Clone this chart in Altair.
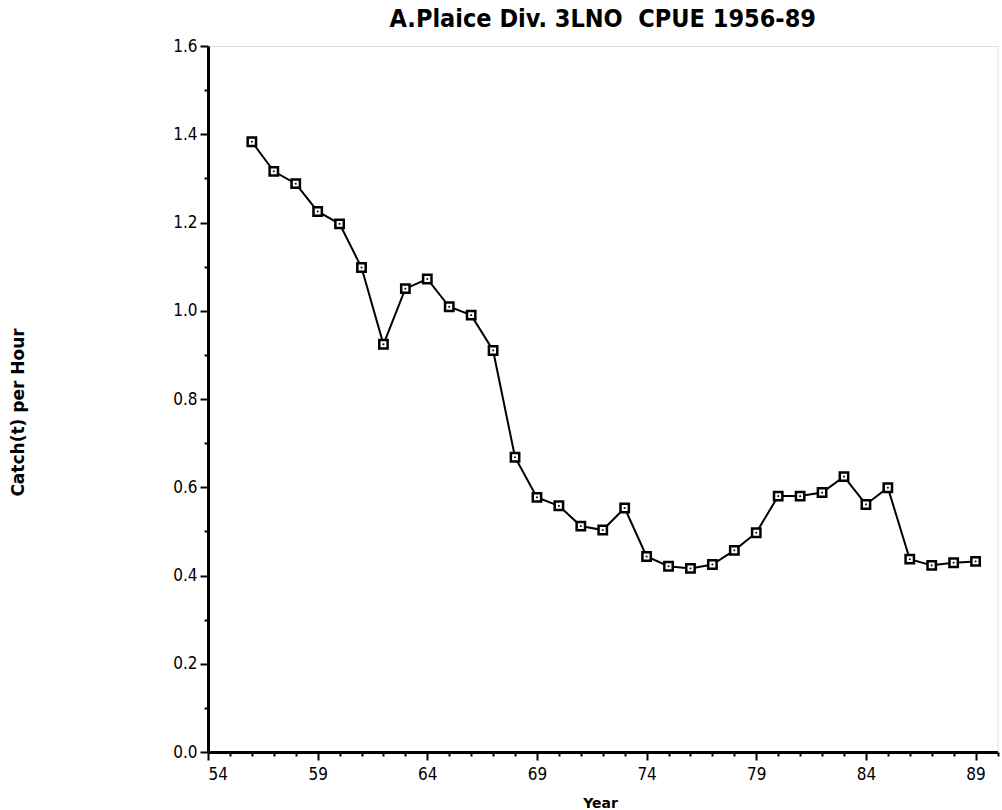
import altair as alt
import pandas as pd

years = list(range(1956, 1990))
cpue = [1.383, 1.316, 1.288, 1.225, 1.197, 1.098, 0.924, 1.050, 1.072, 1.009,
        0.990, 0.910, 0.668, 0.577, 0.558, 0.512, 0.503, 0.553, 0.443, 0.421,
        0.416, 0.425, 0.457, 0.497, 0.580, 0.580, 0.588, 0.624, 0.561, 0.599,
        0.437, 0.423, 0.429, 0.432]

x_tick_values = list(range(1954, 1991))
y_tick_values = [0.0, 0.1, 0.2, 0.3, 0.4, 0.5, 0.6, 0.7, 0.8, 0.9, 1.0,
                 1.1, 1.2, 1.3, 1.4, 1.5, 1.6]

df = pd.DataFrame({"Year": years, "CPUE": cpue})

NARROW = "Liberation Sans Narrow, DejaVu Sans Condensed, Arial Narrow, sans-serif"

x_enc = alt.X(
    "Year:Q",
    scale=alt.Scale(domain=[1954, 1990], nice=False, zero=False),
    axis=alt.Axis(
        title="Year",
        values=x_tick_values,
        labelExpr="(datum.value - 1954) % 5 == 0 ? format(datum.value % 100, 'd') : ''",
        tickSize={"condition": {"test": "(datum.value - 1954) % 5 == 0", "value": 8}, "value": 4},
        tickWidth=2,
        tickColor="black",
        domainColor="black",
        domainWidth=3,
        grid=False,
        labelFont=NARROW,
        labelFontSize=17,
        labelColor="black",
        labelPadding=6,
        labelOverlap=False,
        titleFont="DejaVu Sans",
        titleFontWeight="bold",
        titleFontSize=14,
        titleColor="black",
        titleX=392,
        titleY=44,
        titleBaseline="top",
        titleAlign="center",
    ),
)

y_enc = alt.Y(
    "CPUE:Q",
    scale=alt.Scale(domain=[0, 1.6], nice=False),
    axis=alt.Axis(
        title="Catch(t) per Hour",
        values=y_tick_values,
        labelExpr="round(datum.value * 10) % 2 == 0 ? format(datum.value, '.1f') : ''",
        tickSize={"condition": {"test": "round(datum.value * 10) % 2 == 0", "value": 8}, "value": 4},
        tickWidth=2,
        tickColor="black",
        domainColor="black",
        domainWidth=3,
        grid=False,
        labelFont=NARROW,
        labelFontSize=17,
        labelColor="black",
        labelPadding=3,
        labelOverlap=False,
        titleFont="DejaVu Sans",
        titleFontWeight="bold",
        titleFontSize=17,
        titleColor="black",
        titleX=-190,
        titleY=366,
        titleAngle=270,
        titleBaseline="middle",
        titleAlign="center",
    ),
)

base = alt.Chart(df).encode(x=x_enc, y=y_enc)

line = base.mark_line(color="black", strokeWidth=2)
squares = base.mark_point(shape="square", size=70, filled=True, fill="white",
                          stroke="black", strokeWidth=2.5, opacity=1)
dots = base.mark_point(shape="square", size=3, filled=True, color="black", opacity=1)

chart = (
    alt.layer(line, squares, dots)
    .properties(
        width=789.5,
        height=706,
        autosize=alt.AutoSizeParams(type="none"),
        padding={"left": 208, "top": 46, "right": 4, "bottom": 58},
        title=alt.TitleParams(
            text="A.Plaice Div. 3LNO\u00a0 CPUE 1956-89",
            font=NARROW,
            fontSize=25,
            fontWeight="bold",
            color="black",
            anchor="middle",
            offset=5,
        ),
    )
    .configure_view(stroke="black", strokeWidth=2)
    .configure(background="white")
)

chart.save("out.html", embed_options={"renderer": "svg", "actions": False})
